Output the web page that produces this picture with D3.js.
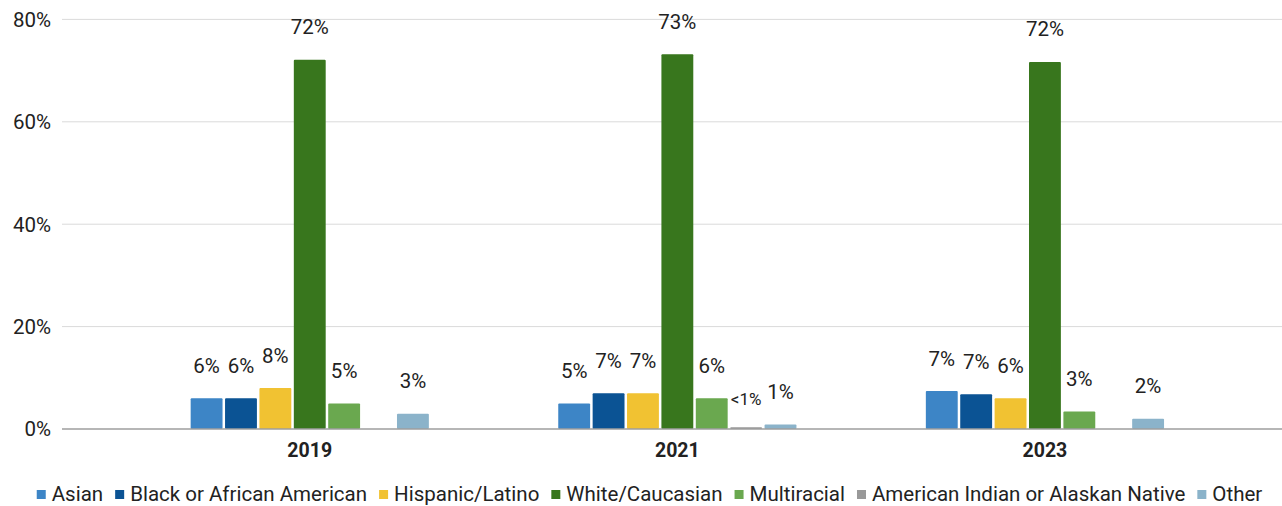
<!DOCTYPE html>
<html>
<head>
<meta charset="utf-8">
<script src="https://cdn.jsdelivr.net/npm/d3@7"></script>
<style>
  html, body { margin: 0; padding: 0; background: #fff; }
  svg { display: block; font-family: Roboto, "Noto Sans", sans-serif; }
</style>
</head>
<body>
<svg id="chart" width="1282" height="506"></svg>
<script>
const years = ["2019", "2021", "2023"];
const categories = ["Asian", "Black or African American", "Hispanic/Latino", "White/Caucasian", "Multiracial", "American Indian or Alaskan Native", "Other"];
const colors = ["#3d85c6", "#0b5394", "#f1c232", "#38761d", "#6aa84f", "#999999", "#8bb3ca"];
// values per category, in year order (null = no bar)
const asian = [6.0, 5.0, 7.4];
const black = [6.0, 7.0, 6.8];
const hispanic = [8.0, 7.0, 6.0];
const white = [72.1, 73.2, 71.7];
const multiracial = [5.0, 6.0, 3.4];
const amIndian = [null, 0.35, null];
const other = [3.0, 0.9, 2.0];
const yTicks = [0, 20, 40, 60, 80];

const series = [asian, black, hispanic, white, multiracial, amIndian, other];

const svg = d3.select("#chart");
const y = d3.scaleLinear().domain([0, 80]).range([429, 19.4]);
const x0 = d3.scaleBand().domain(years).range([62, 1292.7]).paddingInner(0.352).paddingOuter(0.35);
const x1 = d3.scaleBand().domain(categories).range([0, x0.bandwidth()]).paddingInner(0.073);

// gridlines
svg.append("g").selectAll("line").data(yTicks.filter(t => t !== 0)).join("line")
  .attr("x1", 62).attr("x2", 1282)
  .attr("y1", d => y(d)).attr("y2", d => y(d))
  .attr("stroke", "#dadada").attr("stroke-width", 1);

// y tick labels
svg.append("g").selectAll("text").data(yTicks).join("text")
  .attr("x", 51).attr("y", d => y(d)).attr("dy", "0.36em")
  .attr("text-anchor", "end")
  .attr("font-size", 20.5).attr("fill", "#222")
  .text(d => d + "%");

// bars
const rows = [];
years.forEach((yr, i) => {
  categories.forEach((c, j) => {
    const v = series[j][i];
    if (v !== null) rows.push({ yr, c, v, color: colors[j] });
  });
});

svg.append("g").selectAll("rect").data(rows).join("rect")
  .attr("x", d => x0(d.yr) + x1(d.c))
  .attr("width", x1.bandwidth())
  .attr("y", d => y(d.v))
  .attr("height", d => y(0) - y(d.v))
  .attr("rx", 1)
  .attr("fill", d => d.color);

// baseline
svg.append("line")
  .attr("x1", 62).attr("x2", 1282)
  .attr("y1", y(0)).attr("y2", y(0))
  .attr("stroke", "#9e9e9e").attr("stroke-width", 1.5);

// data labels
svg.append("g").selectAll("text").data(rows).join("text")
  .attr("x", d => x0(d.yr) + x1(d.c) + x1.bandwidth() / 2)
  .attr("y", d => y(d.v) - (d.v < 0.5 ? 22 : 25.5))
  .attr("text-anchor", "middle")
  .attr("font-size", d => d.v < 0.5 ? 17 : 20.5)
  .attr("fill", "#222")
  .text(d => d.v < 0.5 ? "<1%" : Math.round(d.v) + "%");

// x labels
svg.append("g").selectAll("text").data(years).join("text")
  .attr("x", d => x0(d) + x0.bandwidth() / 2)
  .attr("y", 457)
  .attr("text-anchor", "middle")
  .attr("font-size", 19.5).attr("font-weight", "bold").attr("fill", "#222")
  .text(d => d);

// legend
const lg = svg.append("g");
let cx = 0;
categories.forEach((c, j) => {
  const g = lg.append("g");
  g.append("rect").attr("x", 0).attr("y", 490).attr("width", 9).attr("height", 9).attr("fill", colors[j]);
  const t = g.append("text").attr("x", 15).attr("y", 501).attr("font-size", 20.5).attr("fill", "#222").text(c);
  const w = t.node().getComputedTextLength();
  g.attr("transform", `translate(${cx},0)`);
  cx += 15 + w + 12;
});
const total = cx - 12;
lg.attr("transform", `translate(${649.5 - total / 2},0)`);
</script>
</body>
</html>
